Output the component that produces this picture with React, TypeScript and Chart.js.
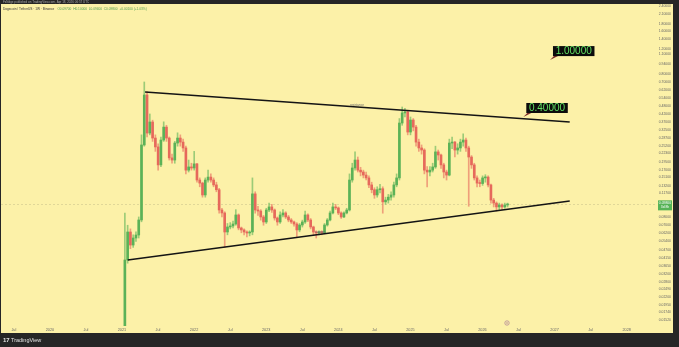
import React, { useEffect, useRef } from 'react';
import { Chart, registerables } from 'chart.js';
Chart.register(...registerables);

// ---- candle data (2-week candles, DOGE/USDT) ----
const candleStart = 2021.04;
const candlePeriod = 1 / 26;
const firstOpen = 0.0075;
const closes = [
  0.040, 0.0628, 0.0509, 0.0570, 0.0598, 0.0762, 0.255, 0.570, 0.309, 0.369,
  0.285, 0.247, 0.185, 0.276, 0.340, 0.285, 0.207, 0.200, 0.263, 0.285,
  0.267, 0.243, 0.170, 0.179, 0.176, 0.188, 0.145, 0.138, 0.114, 0.145,
  0.152, 0.145, 0.134, 0.124, 0.0895, 0.0853, 0.0628, 0.0681, 0.0692, 0.0714,
  0.0826, 0.0670, 0.0649, 0.0628, 0.0618, 0.0628, 0.116, 0.0895, 0.088, 0.080,
  0.0738, 0.0895, 0.094, 0.0895, 0.0787, 0.0738, 0.0826, 0.0853, 0.080, 0.0762,
  0.0738, 0.0714, 0.0649, 0.0703, 0.0738, 0.0826, 0.0762, 0.0681, 0.0628, 0.0618,
  0.0628, 0.0620, 0.0703, 0.0762, 0.0853, 0.094, 0.0925, 0.0853, 0.080, 0.0853,
  0.0895, 0.145, 0.176, 0.200, 0.170, 0.165, 0.157, 0.150, 0.134, 0.124,
  0.114, 0.124, 0.126, 0.102, 0.105, 0.110, 0.114, 0.134, 0.150, 0.363,
  0.427, 0.434, 0.314, 0.381, 0.340, 0.267, 0.243, 0.235, 0.170, 0.165,
  0.170, 0.179, 0.228, 0.217, 0.185, 0.165, 0.157, 0.263, 0.267, 0.235,
  0.243, 0.267, 0.276, 0.243, 0.210, 0.185, 0.150, 0.138, 0.137, 0.150,
  0.152, 0.134, 0.105, 0.100, 0.094, 0.097, 0.094, 0.097, 0.098,
];
const highs = [
  0.085, 0.070, 0.066, 0.060, 0.063, 0.080, 0.30, 0.703, 0.60, 0.42,
  0.38, 0.30, 0.26, 0.29, 0.37, 0.35, 0.29, 0.22, 0.27, 0.31,
  0.30, 0.28, 0.25, 0.20, 0.19, 0.23, 0.19, 0.15, 0.14, 0.15,
  0.17, 0.16, 0.15, 0.14, 0.127, 0.092, 0.087, 0.072, 0.073, 0.075,
  0.09, 0.084, 0.068, 0.066, 0.064, 0.064, 0.15, 0.12, 0.095, 0.09,
  0.082, 0.092, 0.10, 0.098, 0.091, 0.08, 0.087, 0.09, 0.087, 0.082,
  0.078, 0.075, 0.073, 0.072, 0.076, 0.088, 0.084, 0.078, 0.069, 0.064,
  0.064, 0.064, 0.072, 0.078, 0.088, 0.10, 0.098, 0.094, 0.087, 0.087,
  0.092, 0.16, 0.19, 0.228, 0.21, 0.178, 0.17, 0.165, 0.155, 0.14,
  0.128, 0.13, 0.135, 0.13, 0.11, 0.115, 0.12, 0.14, 0.16, 0.39,
  0.47, 0.46, 0.44, 0.40, 0.39, 0.35, 0.28, 0.255, 0.24, 0.18,
  0.18, 0.19, 0.25, 0.235, 0.22, 0.19, 0.17, 0.28, 0.29, 0.27,
  0.26, 0.28, 0.305, 0.285, 0.25, 0.215, 0.19, 0.155, 0.145, 0.155,
  0.158, 0.155, 0.136, 0.108, 0.102, 0.10, 0.099, 0.10, 0.10,
];
const lows = [
  0.0075, 0.038, 0.048, 0.049, 0.054, 0.057, 0.074, 0.25, 0.29, 0.30,
  0.27, 0.23, 0.17, 0.18, 0.27, 0.27, 0.20, 0.19, 0.19, 0.25,
  0.25, 0.23, 0.16, 0.165, 0.17, 0.17, 0.14, 0.13, 0.11, 0.11,
  0.14, 0.14, 0.13, 0.12, 0.085, 0.08, 0.049, 0.06, 0.066, 0.067,
  0.07, 0.065, 0.062, 0.06, 0.058, 0.059, 0.06, 0.085, 0.082, 0.076,
  0.07, 0.072, 0.087, 0.086, 0.076, 0.07, 0.072, 0.08, 0.078, 0.074,
  0.072, 0.069, 0.058, 0.063, 0.068, 0.072, 0.074, 0.066, 0.06, 0.057,
  0.06, 0.06, 0.061, 0.069, 0.075, 0.084, 0.09, 0.083, 0.078, 0.079,
  0.084, 0.088, 0.14, 0.17, 0.165, 0.155, 0.15, 0.145, 0.128, 0.118,
  0.108, 0.11, 0.118, 0.085, 0.098, 0.10, 0.105, 0.11, 0.13, 0.145,
  0.35, 0.40, 0.30, 0.30, 0.32, 0.25, 0.23, 0.22, 0.16, 0.13,
  0.155, 0.165, 0.175, 0.20, 0.175, 0.15, 0.145, 0.155, 0.24, 0.21,
  0.22, 0.23, 0.25, 0.23, 0.095, 0.175, 0.145, 0.13, 0.13, 0.133,
  0.14, 0.13, 0.10, 0.094, 0.088, 0.09, 0.09, 0.092, 0.094,
];

// ---- trend lines ----
const resistanceLine = [{ x: 2021.32, y: 0.598 }, { x: 2027.21, y: 0.369 }];
const supportLine = [{ x: 2021.08, y: 0.040 }, { x: 2027.21, y: 0.1035 }];
const lineLabels = ['resistance', 'support'];
const lineLabelTimes = [2024.26, 2023.75];
const lineLabelPrices = [0.47, 0.0605];

// ---- target callouts ----
const targetLabels = ['1.00000', '0.40000'];
const targetPrices = [1.0, 0.4];
const targetTimes = [2026.936, 2026.566];

// ---- axes ----
const xMin = 2019.322;
const xMax = 2028.254;
const yMin = 0.01382;
const yMax = 2.428;
const priceTicks = [
  2.40, 2.10, 1.80, 1.60, 1.40, 1.20, 1.10, 0.94, 0.80, 0.70, 0.62, 0.54, 0.48,
  0.42, 0.37, 0.325, 0.287, 0.252, 0.223, 0.195, 0.170, 0.151, 0.132, 0.117,
  0.092, 0.080, 0.070, 0.062, 0.054, 0.047, 0.0415, 0.0365, 0.032, 0.028,
  0.0249, 0.022, 0.0195, 0.0174, 0.0152,
];
const timeTicks = [2019.5, 2020, 2020.5, 2021, 2021.5, 2022, 2022.5, 2023, 2023.5, 2024, 2024.5, 2025, 2025.5, 2026, 2026.5, 2027, 2027.5, 2028];
const timeTickLabels = ['Jul', '2020', 'Jul', '2021', 'Jul', '2022', 'Jul', '2023', 'Jul', '2024', 'Jul', '2025', 'Jul', '2026', 'Jul', '2027', 'Jul', '2028'];

const UP = '#5bb257';
const DOWN = '#e6695b';
const FONT = '"Liberation Sans", Arial, sans-serif';

export default function App() {
  const ref = useRef<HTMLCanvasElement>(null);

  useEffect(() => {
    document.body.style.margin = '0';
    const opens = closes.map((c, i) => (i === 0 ? firstOpen : closes[i - 1]));
    const times = closes.map((_, i) => candleStart + i * candlePeriod);
    const isUp = closes.map((c, i) => c >= opens[i]);
    const bodyData = times.map((t, i) => ({ x: t, y: [Math.min(opens[i], closes[i]), Math.max(opens[i], closes[i])] }));
    const wickData = times.map((t, i) => ({ x: t, y: [lows[i], highs[i]] }));
    const bodyColors = isUp.map((u) => (u ? UP : DOWN));
    const wickColors = isUp.map((u) => (u ? 'rgba(91,178,87,0.6)' : 'rgba(230,105,91,0.6)'));
    const lastClose = closes[closes.length - 1];

    const deco = {
      id: 'deco',
      beforeDraw(chart: any) {
        const { ctx, width, height } = chart;
        ctx.save();
        ctx.fillStyle = '#262626';
        ctx.fillRect(0, 0, width, height);
        ctx.fillStyle = '#fcf1a8';
        ctx.fillRect(1, 4, 672, 329);
        ctx.restore();
      },
      beforeDatasetsDraw(chart: any) {
        const { ctx, chartArea } = chart;
        const y = chart.scales.y;
        const py = Math.round(y.getPixelForValue(lastClose)) + 0.5;
        ctx.save();
        ctx.strokeStyle = 'rgba(60,60,60,0.14)';
        ctx.lineWidth = 1;
        ctx.setLineDash([2, 2]);
        ctx.beginPath();
        ctx.moveTo(chartArea.left, py);
        ctx.lineTo(chartArea.right + 12, py);
        ctx.stroke();
        ctx.restore();
      },
      afterDatasetsDraw(chart: any) {
        const { ctx } = chart;
        const x = chart.scales.x;
        const y = chart.scales.y;
        ctx.save();
        ctx.font = `3px ${FONT}`;
        ctx.fillStyle = '#666';
        ctx.textAlign = 'center';
        ctx.textBaseline = 'bottom';
        lineLabels.forEach((lab, k) => {
          ctx.fillText(lab, x.getPixelForValue(lineLabelTimes[k]), y.getPixelForValue(lineLabelPrices[k]) - 0.5);
        });
        targetLabels.forEach((lab, k) => {
          const px = x.getPixelForValue(targetTimes[k]);
          const py = y.getPixelForValue(targetPrices[k]);
          const bx = px + 3;
          const by = py - 14;
          const w = 41.5;
          const h = 10;
          ctx.fillStyle = '#7c2b2b';
          ctx.beginPath();
          ctx.moveTo(px, py);
          ctx.lineTo(bx + 1, by + h);
          ctx.lineTo(bx + 5, by + h);
          ctx.closePath();
          ctx.fill();
          ctx.fillStyle = '#0c0c0c';
          ctx.fillRect(bx, by, w, h);
          ctx.fillStyle = '#62e062';
          ctx.font = `10px ${FONT}`;
          ctx.textAlign = 'center';
          ctx.textBaseline = 'middle';
          ctx.fillText(lab, bx + w / 2, by + h / 2 + 0.5);
        });
        ctx.restore();
      },
      afterDraw(chart: any) {
        const { ctx } = chart;
        const x = chart.scales.x;
        const y = chart.scales.y;
        ctx.save();
        ctx.font = `3.4px ${FONT}`;
        ctx.fillStyle = '#666';
        ctx.textAlign = 'right';
        ctx.textBaseline = 'middle';
        priceTicks.forEach((v) => {
          ctx.fillText(v.toFixed(5), 671, y.getPixelForValue(v));
        });
        const py = y.getPixelForValue(lastClose);
        ctx.fillStyle = '#56b356';
        ctx.fillRect(658, py - 4, 14, 10);
        ctx.fillStyle = '#ffffff';
        ctx.textAlign = 'center';
        ctx.font = `3.4px ${FONT}`;
        ctx.fillText(lastClose.toFixed(5), 665, py - 1);
        ctx.fillText('3d 8h', 665, py + 3);
        ctx.fillStyle = '#666';
        ctx.font = `3.8px ${FONT}`;
        ctx.textAlign = 'center';
        timeTicks.forEach((t, i) => {
          ctx.fillText(timeTickLabels[i], x.getPixelForValue(t), 329.5);
        });
        ctx.textAlign = 'left';
        ctx.fillStyle = '#a8a8a8';
        ctx.font = `3px ${FONT}`;
        ctx.fillText('FxNdge published on TradingView.com, Apr 18, 2026 06:57 UTC', 3, 2.2);
        ctx.fillStyle = '#333';
        ctx.font = `3.2px ${FONT}`;
        const legend = 'Dogecoin / TetherUS · 1W · Binance';
        ctx.fillText(legend, 3, 9.5);
        const lx = 3 + ctx.measureText(legend).width + 3;
        ctx.fillStyle = '#4e9d4e';
        ctx.fillText('O0.09700  H0.10000  L0.09400  C0.09800  +0.00100 (+1.03%)', lx, 9.5);
        ctx.strokeStyle = '#b48a98';
        ctx.lineWidth = 0.8;
        ctx.beginPath();
        ctx.arc(507, 323, 2.2, 0, Math.PI * 2);
        ctx.stroke();
        ctx.fillStyle = '#b48a98';
        ctx.beginPath();
        ctx.arc(507, 323, 0.8, 0, Math.PI * 2);
        ctx.fill();
        ctx.fillStyle = '#e2e2e2';
        ctx.font = `bold 6px ${FONT}`;
        ctx.textBaseline = 'middle';
        ctx.fillText('17', 3, 340);
        ctx.font = `5.5px ${FONT}`;
        ctx.fillText('TradingView', 11, 340);
        ctx.restore();
      },
    };

    const chart = new Chart(ref.current as HTMLCanvasElement, {
      type: 'bar',
      data: {
        datasets: [
          { type: 'line', data: resistanceLine, borderColor: '#141414', borderWidth: 1.6, pointRadius: 0, order: 0 } as any,
          { type: 'line', data: supportLine, borderColor: '#141414', borderWidth: 1.6, pointRadius: 0, order: 0 } as any,
          { type: 'bar', data: wickData, backgroundColor: wickColors, barThickness: 1, grouped: false, order: 2 } as any,
          { type: 'bar', data: bodyData, backgroundColor: bodyColors, barThickness: 2, grouped: false, minBarLength: 1, order: 1 } as any,
        ],
      },
      options: {
        responsive: false,
        animation: false,
        devicePixelRatio: 1,
        events: [],
        layout: { padding: { left: 1, top: 5, right: 34, bottom: 21 } },
        plugins: { legend: { display: false }, tooltip: { enabled: false } },
        scales: {
          x: { type: 'linear', min: xMin, max: xMax, display: false, offset: false },
          y: { type: 'logarithmic', min: yMin, max: yMax, display: false, position: 'right' },
        },
      } as any,
      plugins: [deco],
    });
    return () => chart.destroy();
  }, []);

  return (
    <div style={{ position: 'fixed', left: 0, top: 0, width: 679, height: 347 }}>
      <canvas ref={ref} width={679} height={347} style={{ display: 'block', width: 679, height: 347 }} />
    </div>
  );
}
